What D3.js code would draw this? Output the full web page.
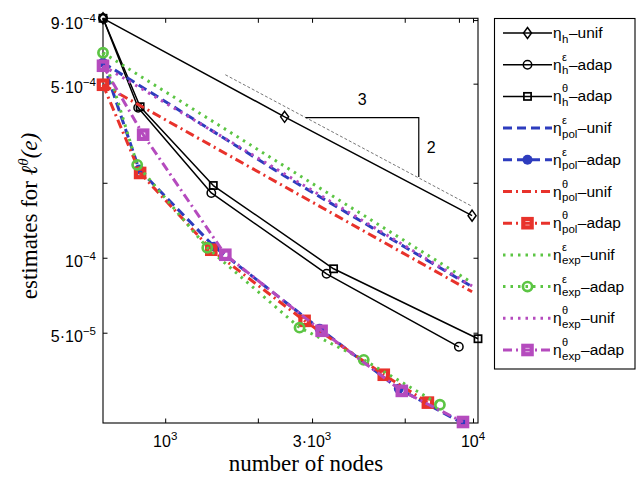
<!DOCTYPE html>
<html>
<head>
<meta charset="utf-8">
<script src="https://cdn.jsdelivr.net/npm/d3@7"></script>
<style>
  body { margin: 0; background: #fff; }
  text { font-family: "Liberation Sans", Arial, Helvetica, sans-serif; }
  .serif { font-family: "Liberation Serif", "Times New Roman", serif; }
</style>
</head>
<body>
<svg id="chart" width="644" height="480"></svg>
<script>
// ---- data: estimated error vs. number of nodes ----
const hUnifNodes      = [628, 2443, 9930];
const hUnif           = [9.15e-4, 3.68e-4, 1.476e-4];
const hEpsAdapNodes   = [628, 817, 1412, 3344, 8995];
const hEpsAdap        = [9.15e-4, 4.0e-4, 1.82e-4, 8.62e-5, 4.39e-5];
const hThAdapNodes    = [628, 829, 1433, 3524, 10380];
const hThAdap         = [9.15e-4, 4.04e-4, 1.95e-4, 9.03e-5, 4.73e-5];

const unifNodes       = [628, 2443, 9930];
const polEpsUnif      = [6.07e-4, 2.13e-4, 7.65e-5];
const polEpsAdapNodes = [628, 823, 1444, 3174, 5741, 9209];
const polEpsAdap      = [6.07e-4, 2.26e-4, 1.107e-4, 5.19e-5, 2.98e-5, 2.17e-5];
const polThUnif       = [4.95e-4, 1.93e-4, 7.3e-5];
const polThAdapNodes  = [628, 829, 1412, 2837, 5130, 7135];
const polThAdap       = [4.95e-4, 2.19e-4, 1.077e-4, 5.58e-5, 3.39e-5, 2.62e-5];
const expEpsUnif      = [6.65e-4, 2.33e-4, 7.94e-5];
const expEpsAdapNodes = [628, 811, 1370, 2732, 4416, 7806];
const expEpsAdap      = [6.65e-4, 2.36e-4, 1.097e-4, 5.24e-5, 3.89e-5, 2.57e-5];
const expThUnif       = [5.9e-4, 2.17e-4, 7.7e-5];
const expThAdapNodes  = [628, 848, 1568, 3222, 5871, 9277];
const expThAdap       = [5.9e-4, 3.12e-4, 1.028e-4, 5.09e-5, 2.92e-5, 2.19e-5];

// reference slope -2/3 (dashed guide) and the 3:2 triangle
const guideNodes  = [1568, 9850];
const guideValues = [5.43e-4, 1.617e-4];
const triNodes    = [2857, 6665, 6665];
const triValues   = [3.65e-4, 3.65e-4, 2.11e-4];

const xTicks      = [1000, 2000, 3000, 6000, 9000, 10000];
const xTickBase   = {1000: "10", 3000: "3·10", 10000: "10"};
const xTickExp    = {1000: "3", 3000: "3", 10000: "4"};
const yTicks      = [5e-5, 1e-4, 2e-4, 5e-4, 9e-4];
const yTickBase   = {5e-5: "5·10", 1e-4: "10", 5e-4: "5·10", 9e-4: "9·10"};
const yTickExp    = {5e-5: "−5", 1e-4: "−4", 5e-4: "−4", 9e-4: "−4"};

const legendSub   = ["h", "h", "h", "pol", "pol", "pol", "pol", "exp", "exp", "exp", "exp"];
const legendSup   = ["", "ε", "θ", "ε", "ε", "θ", "θ", "ε", "ε", "θ", "θ"];
const legendTail  = ["–unif", "–adap", "–adap", "–unif", "–adap", "–unif", "–adap", "–unif", "–adap", "–unif", "–adap"];

// ---- styles ----
const BLACK = "#000", BLUE = "#2d3cbe", RED = "#e8322b", GREEN = "#5cc544", MAGENTA = "#b54bbe";
const DASH = "9,5", DASHDOT = "9,4,2,4", DOT = "2.5,5";

const series = [
  { nodes: hUnifNodes,      values: hUnif,      color: BLACK,   width: 1.5, dash: null,    marker: "diamond" },
  { nodes: hEpsAdapNodes,   values: hEpsAdap,   color: BLACK,   width: 1.5, dash: null,    marker: "circle" },
  { nodes: hThAdapNodes,    values: hThAdap,    color: BLACK,   width: 1.5, dash: null,    marker: "square" },
  { nodes: unifNodes,       values: polEpsUnif, color: BLUE,    width: 3,   dash: DASH,    marker: null },
  { nodes: polEpsAdapNodes, values: polEpsAdap, color: BLUE,    width: 3,   dash: DASH,    marker: "dot" },
  { nodes: unifNodes,       values: polThUnif,  color: RED,     width: 3,   dash: DASHDOT, marker: null },
  { nodes: polThAdapNodes,  values: polThAdap,  color: RED,     width: 3,   dash: DASHDOT, marker: "thickSquare" },
  { nodes: unifNodes,       values: expEpsUnif, color: GREEN,   width: 3,   dash: DOT,     marker: null },
  { nodes: expEpsAdapNodes, values: expEpsAdap, color: GREEN,   width: 3,   dash: DOT,     marker: "thickCircle" },
  { nodes: unifNodes,       values: expThUnif,  color: MAGENTA, width: 3,   dash: DOT,     marker: null },
  { nodes: expThAdapNodes,  values: expThAdap,  color: MAGENTA, width: 3,   dash: DASHDOT, marker: "thickSquare" }
];

// ---- layout ----
const svg = d3.select("#chart");
const plot = { left: 103, right: 478, top: 18.3, bottom: 423 };

const allNodes = series.flatMap(s => s.nodes);
const allValues = series.flatMap(s => s.values);
const x = d3.scaleLog().domain(d3.extent(allNodes)).range([plot.left, plot.right]);
const y = d3.scaleLog().domain(d3.extent(allValues)).range([plot.bottom, plot.top]);

// axes box with inward ticks on all four sides
const TL = 4.5;
const axes = svg.append("g");
axes.append("rect")
  .attr("x", plot.left).attr("y", plot.top)
  .attr("width", plot.right - plot.left).attr("height", plot.bottom - plot.top)
  .attr("fill", "none").attr("stroke", "#000").attr("stroke-width", 1.1);

const bottomAxis = d3.axisBottom(x).tickValues(xTicks).tickSizeInner(-TL).tickSizeOuter(0).tickFormat("");
const topAxis = d3.axisTop(x).tickValues(xTicks).tickSizeInner(-TL).tickSizeOuter(0).tickFormat("");
const leftAxis = d3.axisLeft(y).tickValues(yTicks).tickSizeInner(-TL).tickSizeOuter(0).tickFormat("");
const rightAxis = d3.axisRight(y).tickValues(yTicks).tickSizeInner(-TL).tickSizeOuter(0).tickFormat("");
[[bottomAxis, `translate(0,${plot.bottom})`], [topAxis, `translate(0,${plot.top})`],
 [leftAxis, `translate(${plot.left},0)`], [rightAxis, `translate(${plot.right},0)`]].forEach(([ax, tr]) => {
  const g = axes.append("g").attr("transform", tr).call(ax);
  g.select(".domain").remove();
  g.selectAll(".tick line").attr("stroke", "#000").attr("stroke-width", 1);
});

// tick labels with powers of ten
xTicks.filter(t => xTickBase[t]).forEach(t => {
  const tx = svg.append("text").attr("x", x(t)).attr("y", plot.bottom + 24)
    .attr("text-anchor", "middle").attr("font-size", 16).attr("fill", "#000");
  tx.append("tspan").text(xTickBase[t]);
  tx.append("tspan").attr("dy", -7).attr("font-size", 11.5).text(xTickExp[t]);
});
yTicks.filter(t => yTickBase[t]).forEach(t => {
  const ty = svg.append("text").attr("x", 96).attr("y", y(t) + 9)
    .attr("text-anchor", "end").attr("font-size", 16).attr("fill", "#000");
  ty.append("tspan").text(yTickBase[t]);
  ty.append("tspan").attr("dy", -7).attr("font-size", 11.5).text(yTickExp[t]);
});

// axis titles
svg.append("text").attr("class", "serif").attr("x", 306).attr("y", 471)
  .attr("text-anchor", "middle").attr("font-size", 23).text("number of nodes");
const yl = svg.append("text").attr("class", "serif")
  .attr("transform", "translate(37,216) rotate(-90)")
  .attr("text-anchor", "middle").attr("font-size", 23);
yl.append("tspan").text("estimates for ");
yl.append("tspan").attr("font-style", "italic").text("ℓ");
yl.append("tspan").attr("font-style", "italic").attr("font-size", 15).attr("dy", -9).text("θ");
yl.append("tspan").attr("font-style", "italic").attr("dy", 9).text("(e)");

// slope guide and triangle
const line = d3.line().x(d => x(d[0])).y(d => y(d[1]));
svg.append("path").attr("d", line(d3.zip(guideNodes, guideValues)))
  .attr("fill", "none").attr("stroke", "#777").attr("stroke-width", 1).attr("stroke-dasharray", "3,2");
svg.append("path").attr("d", line(d3.zip(triNodes, triValues)))
  .attr("fill", "none").attr("stroke", "#000").attr("stroke-width", 1.2);
svg.append("text").attr("x", (x(triNodes[0]) + x(triNodes[1])) / 2).attr("y", y(triValues[0]) - 13)
  .attr("text-anchor", "middle").attr("font-size", 16).text("3");
svg.append("text").attr("x", x(triNodes[1]) + 8).attr("y", (y(triValues[1]) + y(triValues[2])) / 2 + 6)
  .attr("font-size", 16).text("2");

// markers
function drawMarker(g, type, cx, cy, color) {
  if (type === "diamond") {
    g.append("path").attr("d", `M${cx},${cy - 5.5}L${cx + 4},${cy}L${cx},${cy + 5.5}L${cx - 4},${cy}Z`)
      .attr("fill", "none").attr("stroke", color).attr("stroke-width", 1.5);
  } else if (type === "circle") {
    g.append("circle").attr("cx", cx).attr("cy", cy).attr("r", 4.2)
      .attr("fill", "none").attr("stroke", color).attr("stroke-width", 1.5);
  } else if (type === "square") {
    g.append("rect").attr("x", cx - 3.6).attr("y", cy - 3.6).attr("width", 7.2).attr("height", 7.2)
      .attr("fill", "none").attr("stroke", color).attr("stroke-width", 1.7);
  } else if (type === "dot") {
    g.append("circle").attr("cx", cx).attr("cy", cy).attr("r", 5).attr("fill", color);
  } else if (type === "thickSquare") {
    g.append("rect").attr("x", cx - 4.2).attr("y", cy - 4.2).attr("width", 8.4).attr("height", 8.4)
      .attr("fill", "none").attr("stroke", color).attr("stroke-width", 4.2);
  } else if (type === "thickCircle") {
    g.append("circle").attr("cx", cx).attr("cy", cy).attr("r", 4.6)
      .attr("fill", "none").attr("stroke", color).attr("stroke-width", 2.7);
  }
}

// series
const marks = svg.append("g");
series.forEach(s => {
  const g = marks.append("g");
  g.append("path").attr("d", line(d3.zip(s.nodes, s.values)))
    .attr("fill", "none").attr("stroke", s.color).attr("stroke-width", s.width)
    .attr("stroke-dasharray", s.dash).attr("stroke-linejoin", "round");
  if (s.marker) s.nodes.forEach((n, i) => drawMarker(g, s.marker, x(n), y(s.values[i]), s.color));
});

// legend
const leg = svg.append("g");
leg.append("rect").attr("x", 494.5).attr("y", 18.5).attr("width", 140.5).attr("height", 350.5)
  .attr("fill", "#fff").attr("stroke", "#000").attr("stroke-width", 1.1);
series.forEach((s, i) => {
  const cy = 33 + i * 31.7;
  leg.append("line").attr("x1", 503).attr("x2", 552).attr("y1", cy).attr("y2", cy)
    .attr("stroke", s.color).attr("stroke-width", s.width).attr("stroke-dasharray", s.dash);
  if (s.marker) drawMarker(leg, s.marker, 527.5, cy, s.color);
  const base = cy + 5;
  leg.append("text").attr("x", 553).attr("y", base).attr("font-size", 15.5).text("η");
  const sub = leg.append("text").attr("x", 562).attr("y", base + 4.5).attr("font-size", 11.5).text(legendSub[i]);
  if (legendSup[i]) leg.append("text").attr("x", 562).attr("y", base - 9).attr("font-size", 11).text(legendSup[i]);
  const w = sub.node().getComputedTextLength();
  leg.append("text").attr("x", 562 + w + 0.5).attr("y", base).attr("font-size", 15.5).text(legendTail[i]);
});
</script>
</body>
</html>
